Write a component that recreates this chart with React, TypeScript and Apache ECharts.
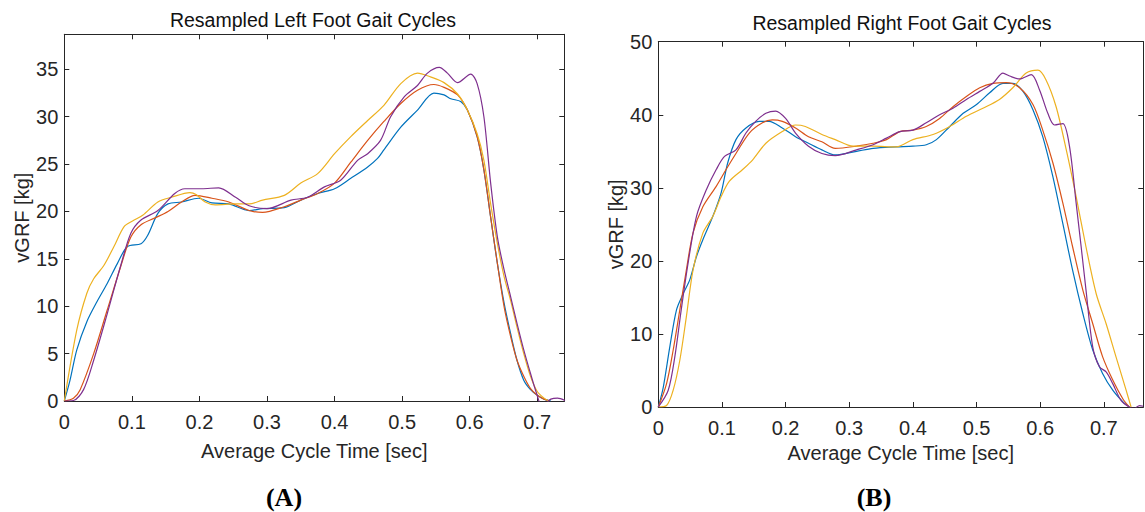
import React, { useEffect, useRef } from "react";
import * as echarts from "echarts";

// ---------- data: [time (s), vGRF (kg)] ----------
const leftBlue = [[0,0],[0.0085,2.2],[0.0185,5.4],[0.0335,8.4],[0.0485,10.5],[0.0635,12.4],[0.0785,14.5],[0.0935,16.3],[0.1135,16.6],[0.1235,17.5],[0.1385,19.8],[0.1535,20.8],[0.1735,21.0],[0.1985,21.4],[0.2185,20.9],[0.2435,20.8],[0.2735,20.1],[0.2935,20.3],[0.3256,20.4],[0.35,21.2],[0.375,21.9],[0.4,22.4],[0.424,23.5],[0.449,24.7],[0.4636,25.6],[0.473,26.5],[0.498,28.9],[0.5227,30.7],[0.547,32.5],[0.562,32.3],[0.572,31.9],[0.5867,31.6],[0.5966,30.7],[0.611,27.9],[0.621,24.4],[0.631,19.4],[0.641,14.5],[0.651,10.3],[0.6606,7.1],[0.67,4.3],[0.68,2.2],[0.69,1.2],[0.7,0.6],[0.71,0.2],[0.72,0]];
const leftOrange = [[0,0],[0.0135,0.3],[0.0235,1.2],[0.0435,5.0],[0.0635,9.6],[0.0835,14.2],[0.0985,17.3],[0.1135,18.6],[0.1335,19.3],[0.1535,20.0],[0.1735,21.0],[0.1935,21.7],[0.2185,21.4],[0.2435,21.0],[0.2735,20.1],[0.2935,19.9],[0.3256,20.5],[0.35,21.2],[0.375,21.9],[0.4,23.0],[0.424,25.2],[0.449,27.5],[0.473,29.5],[0.498,31.4],[0.5227,32.8],[0.547,33.4],[0.562,33.1],[0.582,32.3],[0.5966,30.7],[0.611,27.9],[0.621,24.4],[0.631,19.4],[0.641,14.5],[0.651,9.9],[0.6606,6.8],[0.67,4.3],[0.68,2.6],[0.69,1.3],[0.7,0.6],[0.71,0.2],[0.718,0]];
const leftYellow = [[0,0],[0.0185,7.5],[0.0335,11.4],[0.0435,12.9],[0.0585,14.3],[0.0735,16.3],[0.0885,18.4],[0.101,19.0],[0.116,19.6],[0.1385,21.0],[0.1585,21.5],[0.186,22.0],[0.195,21.8],[0.2085,21.0],[0.2235,20.7],[0.2535,20.8],[0.2735,20.8],[0.2935,21.2],[0.3256,21.7],[0.35,23.0],[0.375,24.0],[0.4,26.1],[0.424,27.9],[0.449,29.6],[0.473,31.2],[0.498,33.5],[0.5227,34.6],[0.542,34.2],[0.562,33.6],[0.582,32.4],[0.5966,30.7],[0.611,28.2],[0.621,25.4],[0.631,20.8],[0.641,16.6],[0.651,13.1],[0.6606,10.6],[0.67,7.8],[0.68,5.0],[0.69,2.6],[0.7,1.0],[0.71,0.3],[0.717,0]];
const leftPurple = [[0,0],[0.0135,0.05],[0.0285,1.2],[0.0435,4.3],[0.0635,9.2],[0.0835,14.3],[0.0985,17.7],[0.1135,19.1],[0.1385,20.1],[0.1635,21.9],[0.1785,22.4],[0.2035,22.4],[0.2285,22.5],[0.2535,21.5],[0.2735,20.6],[0.3,20.3],[0.3355,21.2],[0.36,21.5],[0.385,22.6],[0.409,23.3],[0.434,25.4],[0.449,26.1],[0.468,27.5],[0.483,30.0],[0.503,32.1],[0.5227,33.3],[0.5375,34.6],[0.555,35.2],[0.567,34.6],[0.582,33.6],[0.6015,34.5],[0.611,33.5],[0.621,30.0],[0.631,23.0],[0.641,17.3],[0.651,13.8],[0.6606,11.0],[0.67,8.2],[0.68,5.4],[0.69,2.9],[0.699,0.8],[0.706,-0.4],[0.713,-0.2],[0.72,0.2],[0.73,0.3],[0.741,0.05]];

const rightBlue = [[0,0],[0.0078,2.7],[0.018,8.2],[0.0286,13.3],[0.039,15.5],[0.0494,17.4],[0.06,20.6],[0.07,22.9],[0.0857,26.1],[0.0987,29.3],[0.109,33.4],[0.122,36.6],[0.1377,38.2],[0.1584,39.1],[0.174,39.1],[0.1948,38.2],[0.2156,37.0],[0.236,36.1],[0.257,35.2],[0.278,34.5],[0.3115,35.0],[0.3376,35.4],[0.374,35.6],[0.4,35.7],[0.421,35.9],[0.437,36.6],[0.458,38.4],[0.479,40.2],[0.5,41.4],[0.5206,43.0],[0.5415,44.3],[0.557,44.3],[0.573,43.2],[0.5886,40.7],[0.604,37.0],[0.62,31.5],[0.6356,25.1],[0.651,18.7],[0.667,12.8],[0.6826,7.8],[0.698,4.6],[0.714,2.3],[0.73,0.7],[0.74,0]];
const rightOrange = [[0,0],[0.013,3.2],[0.0234,7.8],[0.0338,13.3],[0.044,18.7],[0.0545,23.8],[0.07,27.4],[0.091,30.2],[0.1065,32.5],[0.122,34.7],[0.143,37.5],[0.1636,38.9],[0.179,39.3],[0.1948,39.1],[0.2156,38.2],[0.236,37.0],[0.257,36.3],[0.278,35.4],[0.3115,35.7],[0.3376,36.1],[0.3585,36.6],[0.3795,37.7],[0.4,37.9],[0.421,38.4],[0.442,39.5],[0.463,41.1],[0.484,42.5],[0.505,43.7],[0.5258,44.3],[0.5467,44.4],[0.5676,43.7],[0.5886,41.4],[0.604,37.9],[0.62,33.4],[0.6356,27.9],[0.651,21.9],[0.667,16.0],[0.6826,11.4],[0.698,6.9],[0.714,3.7],[0.73,1.1],[0.74,0]];
const rightYellow = [[0,0],[0.013,0.2],[0.0234,2.3],[0.0338,6.4],[0.044,12.3],[0.0545,18.7],[0.07,23.8],[0.0857,26.1],[0.0987,28.8],[0.1117,30.9],[0.1325,32.5],[0.148,33.8],[0.169,36.1],[0.1948,37.7],[0.2156,38.6],[0.231,38.4],[0.257,37.3],[0.278,36.6],[0.306,35.7],[0.3376,35.7],[0.374,35.6],[0.4,36.6],[0.4317,37.3],[0.458,38.4],[0.484,39.8],[0.51,40.9],[0.536,42.1],[0.557,43.7],[0.578,45.7],[0.5964,46.1],[0.609,44.8],[0.625,41.1],[0.641,35.2],[0.6565,28.8],[0.672,21.9],[0.688,15.5],[0.7036,11.4],[0.719,6.9],[0.735,2.3],[0.7428,0]];
const rightPurple = [[0,0],[0.0156,2.3],[0.026,6.9],[0.036,13.3],[0.0468,19.7],[0.06,26.1],[0.0753,29.7],[0.091,32.5],[0.104,34.3],[0.122,35.2],[0.1377,37.5],[0.153,39.1],[0.169,40.2],[0.1844,40.5],[0.2,39.5],[0.2156,37.5],[0.236,35.7],[0.257,34.7],[0.278,34.4],[0.3115,35.2],[0.3376,35.9],[0.3585,36.8],[0.3795,37.7],[0.4,37.9],[0.421,38.9],[0.442,40.0],[0.463,40.9],[0.484,42.1],[0.505,43.2],[0.5258,44.3],[0.5415,45.7],[0.552,45.3],[0.5676,44.9],[0.586,45.5],[0.599,43.4],[0.612,40.2],[0.6225,38.6],[0.6356,38.8],[0.646,35.7],[0.6565,27.9],[0.6644,21.9],[0.672,16.0],[0.6826,8.2],[0.6931,5.5],[0.7036,4.8],[0.714,3.2],[0.727,0.9],[0.74,0],[0.748,-0.2],[0.756,0.2],[0.762,0.1]];

const titles = ["Resampled Left Foot Gait Cycles", "Resampled Right Foot Gait Cycles"];
const panelLabels = ["(A)", "(B)"];
const xName = "Average Cycle Time [sec]";
const yName = "vGRF [kg]";
const leftXMax = 0.74;
const rightXMax = 0.762;
const leftYMax = 38.7;
const rightYMax = 50;
const leftYStep = 5;
const rightYStep = 10;
const xStep = 0.1;

const COLORS = ["#0072BD", "#D95319", "#EDB120", "#7E2F8E"];
const AX = "#262626";
const FONT = "'Liberation Sans', Arial, Helvetica, sans-serif";

export default function App() {
  const ref = useRef<HTMLDivElement>(null);
  useEffect(() => {
    if (!ref.current) return;
    const chart = echarts.init(ref.current, null, { renderer: "svg" });

    const grids = [
      { left: 64.3, top: 34.3, width: 500, height: 366.7 },
      { left: 658.3, top: 41.7, width: 485, height: 365.3 },
    ];

    const mkX = (g: number, max: number, pos: string, labels: boolean, gap: number) => ({
      gridIndex: g,
      type: "value",
      position: pos,
      min: 0,
      max,
      interval: xStep,
      name: labels ? xName : "",
      nameLocation: "middle",
      nameGap: gap,
      nameTextStyle: { color: AX, fontSize: 20, fontFamily: FONT },
      axisLine: { show: true, onZero: false, lineStyle: { color: AX, width: 1 } },
      axisTick: { show: true, inside: true, length: 5, lineStyle: { color: AX, width: 1 } },
      axisLabel: {
        show: labels,
        color: AX,
        fontSize: 20,
        fontFamily: FONT,
        margin: 11,
        showMaxLabel: false,
        formatter: (v: number) => String(Math.round(v * 10) / 10),
      },
      splitLine: { show: false },
    });
    const mkY = (g: number, max: number, step: number, pos: string, labels: boolean, gap: number, showMax: boolean) => ({
      gridIndex: g,
      type: "value",
      position: pos,
      min: 0,
      max,
      interval: step,
      name: labels ? yName : "",
      nameLocation: "middle",
      nameRotate: 90,
      nameGap: gap,
      nameTextStyle: { color: AX, fontSize: 20, fontFamily: FONT },
      axisLine: { show: true, onZero: false, lineStyle: { color: AX, width: 1 } },
      axisTick: { show: true, inside: true, length: 5, lineStyle: { color: AX, width: 1 } },
      axisLabel: {
        show: labels,
        color: AX,
        fontSize: 20,
        fontFamily: FONT,
        margin: 6,
        showMaxLabel: showMax,
      },
      splitLine: { show: false },
    });

    const mkSeries = (data: number[][], color: string, axis: number) => ({
      type: "line",
      xAxisIndex: axis,
      yAxisIndex: axis,
      data,
      smooth: 0.3,
      showSymbol: false,
      symbol: "none",
      clip: true,
      lineStyle: { color, width: 1.2 },
      emphasis: { disabled: true },
    });

    chart.setOption({
      animation: false,
      backgroundColor: "#ffffff",
      grid: grids,
      xAxis: [
        mkX(0, leftXMax, "bottom", true, 40),
        mkX(0, leftXMax, "top", false, 0),
        mkX(1, rightXMax, "bottom", true, 36),
        mkX(1, rightXMax, "top", false, 0),
      ],
      yAxis: [
        mkY(0, leftYMax, leftYStep, "left", true, 30, false),
        mkY(0, leftYMax, leftYStep, "right", false, 0, false),
        mkY(1, rightYMax, rightYStep, "left", true, 31, true),
        mkY(1, rightYMax, rightYStep, "right", false, 0, false),
      ],
      series: [
        mkSeries(leftBlue, COLORS[0], 0),
        mkSeries(leftOrange, COLORS[1], 0),
        mkSeries(leftYellow, COLORS[2], 0),
        mkSeries(leftPurple, COLORS[3], 0),
        mkSeries(rightBlue, COLORS[0], 2),
        mkSeries(rightOrange, COLORS[1], 2),
        mkSeries(rightYellow, COLORS[2], 2),
        mkSeries(rightPurple, COLORS[3], 2),
      ],
      graphic: [
        {
          type: "text",
          x: 313,
          y: 19.5,
          style: { text: titles[0], fill: "#111", font: `19.5px ${FONT}`, textAlign: "center", textVerticalAlign: "middle" },
        },
        {
          type: "text",
          x: 902,
          y: 23,
          style: { text: titles[1], fill: "#111", font: `19.5px ${FONT}`, textAlign: "center", textVerticalAlign: "middle" },
        },
        {
          type: "text",
          x: 284,
          y: 497,
          style: { text: panelLabels[0], fill: "#000", font: `bold 26px 'Liberation Serif', 'Times New Roman', serif`, textAlign: "center", textVerticalAlign: "middle" },
        },
        {
          type: "text",
          x: 874,
          y: 497,
          style: { text: panelLabels[1], fill: "#000", font: `bold 26px 'Liberation Serif', 'Times New Roman', serif`, textAlign: "center", textVerticalAlign: "middle" },
        },
      ],
    });
    return () => chart.dispose();
  }, []);
  return (
    <div
      ref={ref}
      style={{ position: "fixed", left: 0, top: 0, width: 1145, height: 512, background: "#fff" }}
    />
  );
}
